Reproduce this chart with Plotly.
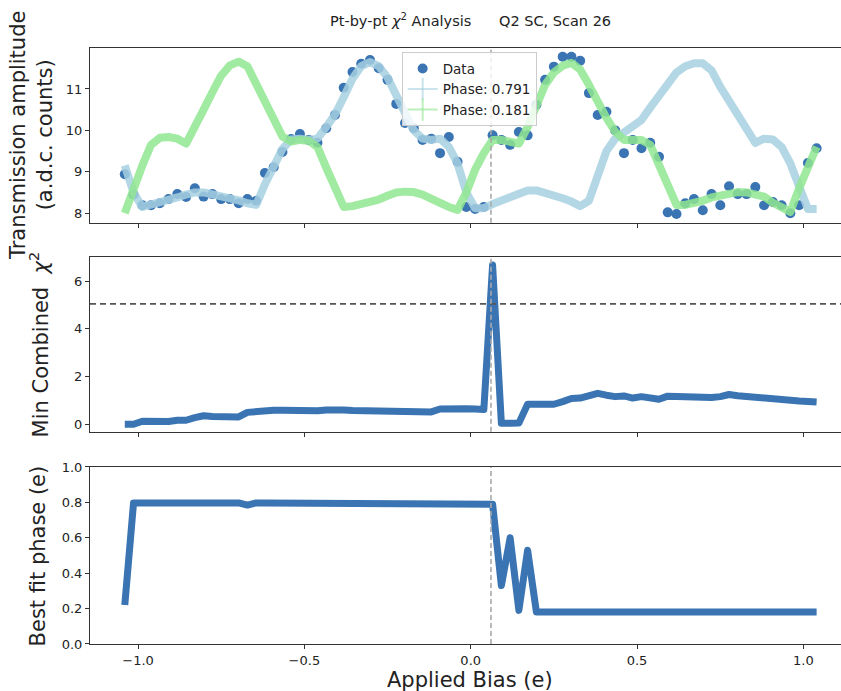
import plotly.graph_objects as go
from plotly.subplots import make_subplots

# ---------------- data ----------------
BIAS = [-1.0400, -1.0137, -0.9873, -0.9610, -0.9347, -0.9084, -0.8820, -0.8557, -0.8294, -0.8030,
        -0.7767, -0.7504, -0.7241, -0.6977, -0.6714, -0.6451, -0.6187, -0.5924, -0.5661, -0.5397,
        -0.5134, -0.4871, -0.4608, -0.4344, -0.4081, -0.3818, -0.3554, -0.3291, -0.3028, -0.2765,
        -0.2501, -0.2238, -0.1975, -0.1711, -0.1448, -0.1185, -0.0922, -0.0658, -0.0395, -0.0132,
        0.0132, 0.0395, 0.0658, 0.0922, 0.1185, 0.1448, 0.1711, 0.1975, 0.2238, 0.2501,
        0.2765, 0.3028, 0.3291, 0.3554, 0.3818, 0.4081, 0.4344, 0.4608, 0.4871, 0.5134,
        0.5397, 0.5661, 0.5924, 0.6187, 0.6451, 0.6714, 0.6977, 0.7241, 0.7504, 0.7767,
        0.8030, 0.8294, 0.8557, 0.8820, 0.9084, 0.9347, 0.9610, 0.9873, 1.0137, 1.0400]

DATA = [8.94, 8.45, 8.19, 8.19, 8.24, 8.34, 8.46, 8.39, 8.60, 8.40,
        8.46, 8.34, 8.34, 8.24, 8.34, 8.30, 8.97, 9.11, 9.48, 9.79,
        9.91, 9.77, 9.70, 10.05, 10.37, 11.03, 11.41, 11.61, 11.70, 11.50,
        11.22, 10.64, 10.18, 10.05, 9.77, 9.80, 9.45, 9.84, 9.24, 8.15,
        8.10, 8.15, 9.88, 9.77, 9.65, 9.96, 9.88, 10.62, 11.22, 11.54,
        11.78, 11.78, 11.68, 10.90, 10.37, 10.45, 10.00, 9.45, 9.77, 9.57,
        9.70, 9.36, 8.02, 7.98, 8.24, 8.34, 8.07, 8.46, 8.19, 8.65,
        8.46, 8.46, 8.63, 8.19, 8.27, 8.19, 8.00, 8.19, 9.21, 9.57]

FIT_A = [9.15, 8.50, 8.15, 8.20, 8.25, 8.30, 8.38, 8.45, 8.50, 8.50,
         8.46, 8.42, 8.36, 8.31, 8.24, 8.20, 8.70, 9.15, 9.55, 9.78,
         9.80, 9.77, 9.80, 10.08, 10.38, 10.80, 11.25, 11.55, 11.65, 11.55,
         11.28, 10.85, 10.40, 10.00, 9.80, 9.77, 9.80, 9.60, 9.20, 8.50,
         8.12, 8.12, 8.22, 8.30, 8.38, 8.47, 8.55, 8.55, 8.50, 8.45,
         8.36, 8.28, 8.17, 8.30, 8.97, 9.50, 9.80, 9.95, 10.05, 10.25,
         10.55, 10.85, 11.15, 11.40, 11.55, 11.62, 11.62, 11.45, 11.05, 10.70,
         10.35, 9.97, 9.70, 9.80, 9.78, 9.60, 9.20, 8.65, 8.10, 8.10]

FIT_B = [8.00, 8.60, 9.15, 9.65, 9.82, 9.84, 9.80, 9.68, 10.05, 10.50,
         10.92, 11.32, 11.57, 11.66, 11.55, 11.12, 10.65, 10.20, 9.85, 9.73,
         9.77, 9.75, 9.60, 9.10, 8.58, 8.15, 8.17, 8.21, 8.25, 8.33,
         8.42, 8.50, 8.52, 8.51, 8.45, 8.33, 8.25, 8.15, 8.08, 8.50,
         9.05, 9.45, 9.77, 9.77, 9.70, 9.68, 10.08, 10.60, 11.10, 11.40,
         11.56, 11.63, 11.47, 11.10, 10.65, 10.30, 9.97, 9.77, 9.77, 9.77,
         9.65, 9.20, 8.72, 8.20, 8.20, 8.24, 8.30, 8.38, 8.43, 8.49,
         8.51, 8.50, 8.47, 8.40, 8.25, 8.13, 8.03, 8.60, 9.15, 9.60]

CHI2 = [0.00, 0.00, 0.13, 0.12, 0.10, 0.12, 0.17, 0.17, 0.28, 0.36,
        0.33, 0.31, 0.31, 0.31, 0.50, 0.55, 0.59, 0.59, 0.59, 0.57,
        0.56, 0.55, 0.57, 0.60, 0.62, 0.60, 0.58, 0.57, 0.57, 0.55,
        0.54, 0.52, 0.52, 0.52, 0.52, 0.52, 0.64, 0.66, 0.66, 0.65,
        0.64, 0.62, 6.68, 0.04, 0.04, 0.05, 0.84, 0.82, 0.81, 0.84,
        0.95, 1.08, 1.10, 1.20, 1.30, 1.22, 1.16, 1.19, 1.10, 1.16,
        1.10, 1.05, 1.18, 1.16, 1.13, 1.12, 1.13, 1.12, 1.16, 1.25,
        1.20, 1.16, 1.14, 1.10, 1.06, 1.03, 1.00, 0.98, 0.96, 0.94]

PHASE = [0.22, 0.797, 0.797, 0.797, 0.797, 0.797, 0.797, 0.797, 0.797, 0.797,
         0.797, 0.797, 0.797, 0.797, 0.785, 0.797, 0.797, 0.797, 0.797, 0.797,
         0.797, 0.792, 0.792, 0.792, 0.792, 0.792, 0.792, 0.792, 0.792, 0.792,
         0.792, 0.792, 0.792, 0.792, 0.792, 0.792, 0.792, 0.792, 0.792, 0.792,
         0.792, 0.792, 0.790, 0.33, 0.60, 0.19, 0.53, 0.181, 0.181, 0.181,
         0.181, 0.181, 0.181, 0.181, 0.181, 0.181, 0.181, 0.181, 0.181, 0.181,
         0.181, 0.181, 0.181, 0.181, 0.181, 0.181, 0.181, 0.181, 0.181, 0.181,
         0.181, 0.181, 0.181, 0.181, 0.181, 0.181, 0.181, 0.181, 0.181, 0.181]

LABEL_A = "Phase: 0.791"
LABEL_B = "Phase: 0.181"
CHI2_THRESHOLD = 5.05
BEST_BIAS = 0.061

X_TICKS = [-1.0, -0.5, 0.0, 0.5, 1.0]
X_TICKTEXT = ["\u22121.0", "\u22120.5", "0.0", "0.5", "1.0"]
Y1_TICKS = [8, 9, 10, 11]
Y2_TICKS = [0, 2, 4, 6]
Y3_TICKS = [0.0, 0.2, 0.4, 0.6, 0.8, 1.0]
Y3_TICKTEXT = ["0.0", "0.2", "0.4", "0.6", "0.8", "1.0"]

# ---------------- styling ----------------
DARK = "#3a74b2"
LBLUE = "rgba(166,208,224,0.85)"
LGREEN = "rgba(144,230,144,0.85)"
AXC = "#333333"
FONT = "DejaVu Sans"
TICK_FONT = dict(family=FONT, size=13, color="#222")

fig = make_subplots(rows=3, cols=1)

fig.add_trace(go.Scatter(x=BIAS, y=DATA, mode="markers", name="Data",
                         marker=dict(color=DARK, size=10, line=dict(width=0))), row=1, col=1)
fig.add_trace(go.Scatter(x=BIAS, y=FIT_A, mode="lines", showlegend=False,
                         line=dict(color=LBLUE, width=8)), row=1, col=1)
fig.add_trace(go.Scatter(x=BIAS, y=FIT_B, mode="lines", showlegend=False,
                         line=dict(color=LGREEN, width=8)), row=1, col=1)
# legend entries styled like matplotlib errorbar handles
fig.add_trace(go.Scatter(x=[None], y=[None], mode="lines+markers", name=LABEL_A,
                         line=dict(color="rgba(166,208,224,0.6)", width=2),
                         marker=dict(symbol="line-ns", size=16,
                                     line=dict(color="rgba(166,208,224,0.6)", width=2))),
              row=1, col=1)
fig.add_trace(go.Scatter(x=[None], y=[None], mode="lines+markers", name=LABEL_B,
                         line=dict(color="rgba(144,230,144,0.6)", width=2),
                         marker=dict(symbol="line-ns", size=16,
                                     line=dict(color="rgba(144,230,144,0.6)", width=2))),
              row=1, col=1)

fig.add_trace(go.Scatter(x=BIAS, y=CHI2, mode="lines", showlegend=False,
                         line=dict(color=DARK, width=7)), row=2, col=1)
fig.add_trace(go.Scatter(x=BIAS, y=PHASE, mode="lines", showlegend=False,
                         line=dict(color=DARK, width=7)), row=3, col=1)

fig.add_hline(y=CHI2_THRESHOLD, row=2, col=1, line=dict(color="#555555", width=1.6, dash="6px,4px"))
for r in (1, 2, 3):
    fig.add_vline(x=BEST_BIAS, row=r, col=1, line=dict(color="#aaaaaa", width=1.6, dash="5px,3px"))

XR = [-1.1446, 1.1133]
common_x = dict(range=XR, showgrid=False, zeroline=False, showline=True, linecolor=AXC,
                linewidth=1, mirror=True, ticks="outside", ticklen=4, tickcolor=AXC,
                tickvals=X_TICKS, ticktext=X_TICKTEXT, tickfont=TICK_FONT)
fig.update_xaxes(**common_x)
fig.update_xaxes(showticklabels=False, row=1, col=1)
fig.update_xaxes(showticklabels=False, row=2, col=1)

common_y = dict(showgrid=False, zeroline=False, showline=True, linecolor=AXC, linewidth=1,
                mirror=False, ticks="outside", ticklen=4, tickcolor=AXC, tickfont=TICK_FONT)
fig.update_yaxes(**common_y)
fig.update_yaxes(range=[7.77, 11.99], tickvals=Y1_TICKS, domain=[0.7069, 1.0], row=1, col=1)
fig.update_yaxes(range=[-0.31, 7.0], tickvals=Y2_TICKS, domain=[0.3562, 0.6488], row=2, col=1)
fig.update_yaxes(range=[0, 1], tickvals=Y3_TICKS, ticktext=Y3_TICKTEXT, domain=[0.0, 0.2970],
                 row=3, col=1)

LABEL_FONT = dict(family=FONT, size=21, color="#222")
annos = [
    dict(text="Pt-by-pt <i>\u03c7</i><sup>2</sup> Analysis\u00a0\u00a0\u00a0\u00a0\u00a0\u00a0Q2 SC, Scan 26",
         x=0.506, y=1.047, xref="paper", yref="paper", showarrow=False,
         xanchor="center", yanchor="middle", font=dict(family=FONT, size=14.5, color="#222")),
    dict(text="Transmission amplitude<br>(a.d.c. counts)", x=-0.078, y=0.853,
         xref="paper", yref="paper", showarrow=False, textangle=-90,
         xanchor="center", yanchor="middle", font=LABEL_FONT),
    dict(text="Min Combined  <i>\u03c7</i><sup>2</sup>", x=-0.068, y=0.5025,
         xref="paper", yref="paper", showarrow=False, textangle=-90,
         xanchor="center", yanchor="middle", font=LABEL_FONT),
    dict(text="Best fit phase (e)", x=-0.068, y=0.1485,
         xref="paper", yref="paper", showarrow=False, textangle=-90,
         xanchor="center", yanchor="middle", font=LABEL_FONT),
    dict(text="Applied Bias (e)", x=0.5054, y=-0.061,
         xref="paper", yref="paper", showarrow=False,
         xanchor="center", yanchor="middle", font=LABEL_FONT),
]

fig.update_layout(
    width=841, height=691,
    margin=dict(l=90, r=0, t=48, b=47),
    paper_bgcolor="white", plot_bgcolor="white",
    annotations=annos,
    showlegend=True,
    legend=dict(x=0.415, y=0.993, xanchor="left", yanchor="top",
                bgcolor="rgba(255,255,255,0.8)", bordercolor="#cccccc", borderwidth=1,
                font=dict(family=FONT, size=13.5, color="#222"), tracegroupgap=0,
                itemwidth=30),
)

post = ("document.querySelectorAll('path.js-line').forEach(function(p){"
        "p.style.strokeLinejoin='round';});")
fig.write_html("out.html", post_script=post)
